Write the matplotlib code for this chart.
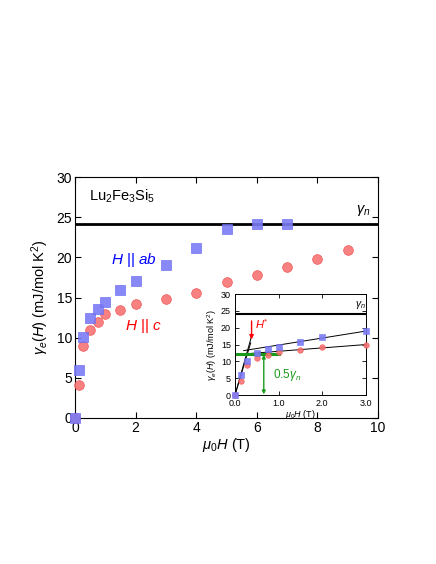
import matplotlib
matplotlib.use("Agg")
import matplotlib.pyplot as plt

plt.rcParams['font.family'] = ['Liberation Sans', 'DejaVu Sans']
plt.rcParams['mathtext.fontset'] = 'custom'
plt.rcParams['mathtext.rm'] = 'Liberation Sans'
plt.rcParams['mathtext.it'] = 'Liberation Sans:italic'

H_ab = [0, 0.13, 0.27, 0.5, 0.75, 1.0, 1.5, 2.0, 3.0, 4.0, 5.0, 6.0, 7.0]
g_ab = [0, 6.0, 10.1, 12.4, 13.6, 14.4, 15.9, 17.1, 19.0, 21.2, 23.5, 24.1, 24.1]
H_c = [0, 0.13, 0.27, 0.5, 0.75, 1.0, 1.5, 2.0, 3.0, 4.0, 5.0, 6.0, 7.0, 8.0, 9.0]
g_c = [0, 4.1, 9.0, 11.0, 12.0, 12.9, 13.5, 14.2, 14.8, 15.6, 16.9, 17.8, 18.8, 19.8, 20.9]
gamma_n = 24.1

# inset fit lines
fit_ab_x = [0.2, 3.0]; fit_ab_y = [13.2, 19.0]
fit_c_x = [0.2, 3.0]; fit_c_y = [12.2, 15.0]
low_ab_x = [0.0, 0.38]; low_ab_y = [0.0, 17.5]
low_c_x = [0.0, 0.36]; low_c_y = [0.0, 15.5]

blue = '#7b7bf5'
red = '#f77272'

fig = plt.figure(figsize=(4.36, 5.64), dpi=100)
ax = fig.add_axes([0.172, 0.259, 0.695, 0.427])
ax.axhline(gamma_n, color='black', lw=2)
ax.plot(H_c, g_c, 'o', color=red, ms=7, mec='#f05050', mew=0.5, alpha=0.9, zorder=3, clip_on=False)
ax.plot(H_ab, g_ab, 's', color=blue, ms=7, mec='#6a6af0', mew=0.5, alpha=0.9, zorder=3, clip_on=False)
ax.set_xlim(0, 10)
ax.set_ylim(0, 30)
ax.set_xticks([0, 2, 4, 6, 8, 10])
ax.set_yticks([0, 5, 10, 15, 20, 25, 30])
ax.tick_params(direction='in', top=True, right=True, length=4, width=0.8, labelsize=10, pad=2)
for s in ax.spines.values():
    s.set_linewidth(0.8)
ax.set_xlabel(r'$\mu_0H$ (T)', fontsize=10.5, labelpad=1)
ax.set_ylabel(r'$\gamma_e(H)$ (mJ/mol K$^2$)', fontsize=10.5, labelpad=4)
ax.text(0.45, 27.6, r'Lu$_2$Fe$_3$Si$_5$', fontsize=10.5, va='center')
ax.text(9.5, 25.9, r'$\gamma_n$', fontsize=10.5, ha='center', va='center')
ax.text(1.2, 19.7, r'$H$ || $ab$', color='blue', fontsize=11, va='center')
ax.text(1.65, 11.5, r'$H$ || $c$', color='red', fontsize=11, va='center')

ins = fig.add_axes([0.539, 0.2996, 0.30, 0.179])
ins.axhline(gamma_n, color='black', lw=1.5)
ins.plot(fit_ab_x, fit_ab_y, color='black', lw=0.7)
ins.plot(fit_c_x, fit_c_y, color='black', lw=0.7)
ins.plot(low_ab_x, low_ab_y, color='black', lw=0.7)
ins.plot(low_c_x, low_c_y, color='black', lw=0.7)
ins.plot([0, 1.0], [12.05, 12.05], color='#1a9a1a', lw=2.2, zorder=2)
ins.annotate('', xy=(0.66, 0.2), xytext=(0.66, 12.0),
             arrowprops=dict(arrowstyle='<|-|>', color='#1a9a1a', lw=1.0,
                             mutation_scale=5, shrinkA=0, shrinkB=0))
ins.annotate('', xy=(0.38, 16.5), xytext=(0.38, 22.0),
             arrowprops=dict(arrowstyle='-|>', color='red', lw=1.0,
                             mutation_scale=6, shrinkA=0, shrinkB=0))
ins.text(0.47, 21.0, r'$H^{*}$', color='red', fontsize=8, va='center')
ins.text(0.88, 6.0, r'0.5$\gamma_n$', color='#1a9a1a', fontsize=8.5, va='center')
ins.text(2.88, 26.8, r'$\gamma_n$', fontsize=7.5, ha='center', va='center')
hin = [h for h in H_c if h <= 3]
ins.plot(hin, g_c[:len(hin)], 'o', color=red, ms=4, mec='#f05050', mew=0.4, alpha=0.9, zorder=3, clip_on=False)
hab = [h for h in H_ab if h <= 3]
ins.plot(hab, g_ab[:len(hab)], 's', color=blue, ms=4, mec='#6a6af0', mew=0.4, alpha=0.9, zorder=3, clip_on=False)
ins.set_xlim(0, 3)
ins.set_ylim(0, 30)
ins.set_xticks([0, 1, 2, 3])
ins.set_xticklabels(['0.0', '1.0', '2.0', '3.0'])
ins.set_yticks([0, 5, 10, 15, 20, 25, 30])
ins.tick_params(direction='in', top=True, right=True, length=3, width=0.6, labelsize=6.5)
ins.tick_params(axis='x', pad=3)
ins.tick_params(axis='y', pad=3)
for s in ins.spines.values():
    s.set_linewidth(0.7)
ins.set_xlabel(r'$\mu_0H$ (T)', fontsize=6.5, labelpad=0)
ins.set_ylabel(r'$\gamma_e(H)$ (mJ/mol K$^2$)', fontsize=6.5, labelpad=1)

fig.savefig('out.png', dpi=100)
